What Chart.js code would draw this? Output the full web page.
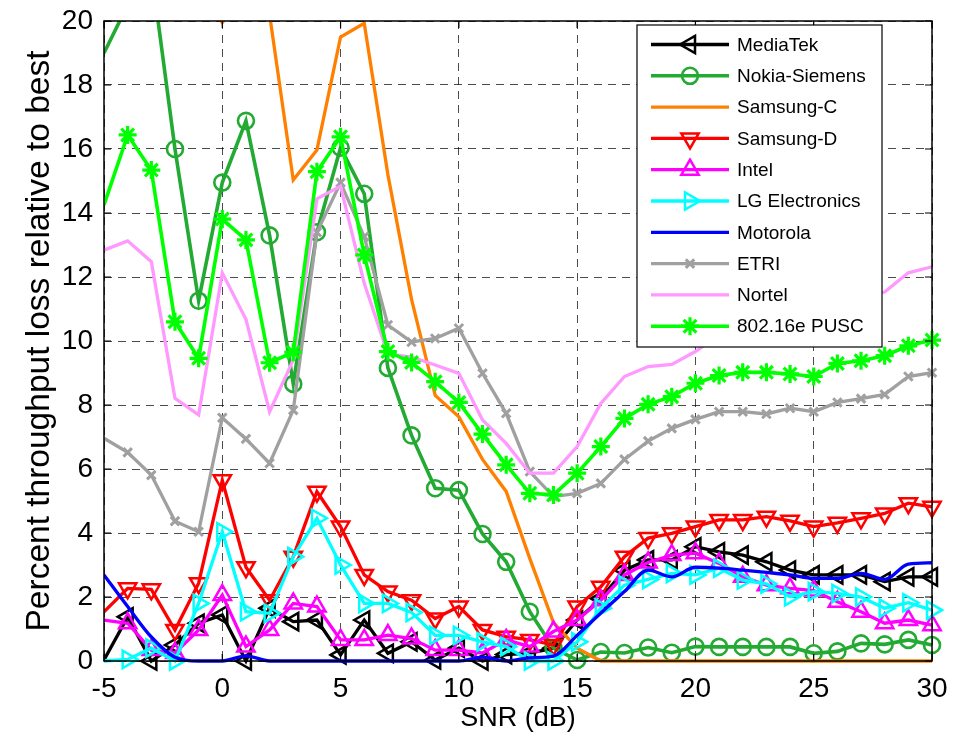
<!DOCTYPE html>
<html>
<head>
<meta charset="utf-8">
<title>Throughput loss vs SNR</title>
<script src="https://cdn.jsdelivr.net/npm/chart.js@4.4.0/dist/chart.umd.min.js"></script>
<style>
  html, body { margin: 0; padding: 0; background: #ffffff; }
  #wrap { width: 963px; height: 742px; position: relative; }
</style>
</head>
<body>
<div id="wrap"><canvas id="c" width="963" height="742"></canvas></div>
<script>
// SNR grid (dB)
const snr = [-5,-4,-3,-2,-1,0,1,2,3,4,5,6,7,8,9,10,11,12,13,14,15,16,17,18,19,20,21,22,23,24,25,26,27,28,29,30];

// Percent throughput loss relative to best, one value per SNR point
const mediatek = [0.03,1.38,0,0.5,1.18,1.44,0,1.65,1.23,1.28,0.19,1.28,0.24,0.6,0.03,0.4,0,0.2,0.25,0.4,1.28,1.95,2.84,3.16,3.16,3.57,3.41,3.31,3.1,2.84,2.69,2.69,2.69,2.48,2.63,2.63];
const nokiaSiemens = [19.0,20.5,21.6,16.0,11.26,14.95,16.88,13.3,8.66,13.4,16.04,14.6,9.16,7.05,5.4,5.34,3.97,3.1,1.54,0.4,0.03,0.28,0.25,0.42,0.26,0.45,0.44,0.44,0.44,0.44,0.24,0.3,0.55,0.52,0.66,0.5];
const samsungC = [23,24,24,23,21,19.95,21,20.2,15.03,15.97,19.5,19.93,15.2,11.3,8.3,7.63,6.3,5.3,3.2,1.2,0.4,0,0,0,0,0,0,0,0,0,0,0,0,0,0,0];
const samsungD = [1.54,2.27,2.24,0.97,2.43,5.65,2.93,1.9,3.26,5.29,4.2,2.69,2.17,1.9,1.33,1.7,0.97,0.76,0.66,0.5,1.7,2.32,3.26,3.84,3.99,4.2,4.41,4.41,4.51,4.38,4.2,4.32,4.46,4.61,4.93,4.82];
const intel = [1.28,1.18,0.34,0.25,0.97,2.06,0.45,0.97,1.8,1.7,0.66,0.66,0.81,0.7,0.34,0.34,0.25,0.66,0.45,0.92,1.28,1.9,2.69,3.08,3.31,3.37,3.05,2.63,2.37,2.27,2.2,1.85,1.54,1.18,1.28,1.12];
const lgElectronics = [0,0.05,0.4,0,1.8,4.04,1.54,1.49,3.26,4.46,3.0,1.8,1.8,1.52,0.8,0.8,0.6,0.45,0,0,0.6,1.65,2.37,2.55,2.74,2.69,2.9,2.53,2.41,2.01,2.17,2.11,2.0,1.65,1.82,1.59];
const motorola = [2.69,1.7,0.75,0.12,0,0,0.16,0,0,0,0,0,0,0,0,0,0.12,0,0.1,0.15,0.8,1.5,2.17,2.84,2.63,2.93,2.9,2.84,2.77,2.69,2.58,2.58,2.74,2.55,3.03,3.07];
const etri = [6.96,6.52,5.81,4.37,4.04,7.6,6.94,6.18,7.84,13.4,14.95,13.26,10.5,9.97,10.08,10.4,8.99,7.74,5.92,5.14,5.24,5.55,6.3,6.87,7.27,7.55,7.79,7.79,7.72,7.9,7.79,8.08,8.2,8.33,8.89,9.01];
const nortel = [12.84,13.13,12.48,8.21,7.69,12.13,10.68,7.79,9.41,14.44,14.84,11.8,9.6,9.5,9.25,8.99,7.53,6.8,5.87,5.87,6.7,8.05,8.89,9.2,9.27,9.67,10.2,10.5,10.7,10.9,11.0,11.2,11.4,11.53,12.13,12.32];
const pusc = [14.25,16.44,15.34,10.6,9.46,13.81,13.16,9.32,9.65,15.29,16.38,12.69,9.67,9.33,8.73,8.08,7.09,6.13,5.24,5.19,5.87,6.7,7.58,8.02,8.26,8.68,8.92,9.02,9.02,8.97,8.89,9.3,9.38,9.54,9.85,10.03];

// Axis ticks
const xTicks = [-5,0,5,10,15,20,25,30];
const yTicks = [0,2,4,6,8,10,12,14,16,18,20];

const FONT = "'Liberation Sans', Arial, Helvetica, sans-serif";

// Series styling: label, values, colour, line width, marker
const seriesDefs = [
  { label: 'MediaTek',        data: mediatek,      color: '#000000', width: 3.3, style: 'triangle', rot: 270, r: 10, bw: 2.5 },
  { label: 'Nokia-Siemens',   data: nokiaSiemens,  color: '#22aa33', width: 3.6, style: 'circle',   rot: 0,   r: 8,  bw: 2.6 },
  { label: 'Samsung-C',       data: samsungC,      color: '#ff8000', width: 3.3, style: false },
  { label: 'Samsung-D',       data: samsungD,      color: '#ff0000', width: 3.3, style: 'triangle', rot: 180, r: 10, bw: 2.5 },
  { label: 'Intel',           data: intel,         color: '#ff00ff', width: 3.3, style: 'triangle', rot: 0,   r: 10, bw: 2.5 },
  { label: 'LG Electronics',  data: lgElectronics, color: '#00ffff', width: 3.3, style: 'triangle', rot: 90,  r: 10, bw: 2.5 },
  { label: 'Motorola',        data: motorola,      color: '#0000ff', width: 3.3, style: false, smooth: true },
  { label: 'ETRI',            data: etri,          color: '#a0a0a0', width: 3.3, style: 'crossRot', rot: 0, r: 6, bw: 3 },
  { label: 'Nortel',          data: nortel,        color: '#ff99ff', width: 3.3, style: false },
  { label: '802.16e PUSC',    data: pusc,          color: '#00ff00', width: 3.6, style: 'star',     rot: 0,   r: 9,  bw: 3.2 }
];

const datasets = seriesDefs.map((s, i) => ({
  label: s.label,
  data: snr.map((x, k) => ({ x: x, y: s.data[k] })),
  borderColor: s.color,
  backgroundColor: 'rgba(0,0,0,0)',
  borderWidth: s.width,
  pointStyle: s.style || 'circle',
  // markers on the left frame edge are cut away with the line
  pointRadius: c => (s.style && c.dataIndex > 0) ? s.r : 0,
  pointHoverRadius: 0,
  pointRotation: s.rot || 0,
  pointBorderWidth: s.bw || 0,
  pointBorderColor: s.color,
  pointBackgroundColor: 'rgba(0,0,0,0)',
  tension: 0,
  cubicInterpolationMode: s.smooth ? 'monotone' : 'default',
  fill: false,
  // later series are painted over earlier ones
  order: seriesDefs.length - i,
  // lines above 20 are cut at the top edge; markers may spill past the right and bottom edges
  clip: { left: 0, top: 0, right: 14, bottom: 14 }
}));

// Frame, inward tick marks and boxed legend inside the plot
const framePlugin = {
  id: 'frame',
  beforeDraw(chart) {
    const ctx = chart.ctx;
    ctx.save();
    ctx.fillStyle = '#ffffff';
    ctx.fillRect(0, 0, chart.width, chart.height);
    ctx.restore();
  },
  afterDraw(chart) {
    const ctx = chart.ctx;
    const a = chart.chartArea;
    const xs = chart.scales.x, ys = chart.scales.y;
    ctx.save();
    ctx.strokeStyle = '#000000';
    ctx.lineWidth = 1.5;
    ctx.strokeRect(a.left, a.top, a.right - a.left, a.bottom - a.top);
    ctx.lineWidth = 1.2;
    const tl = 7;
    ctx.beginPath();
    xTicks.forEach(v => {
      const px = xs.getPixelForValue(v);
      ctx.moveTo(px, a.bottom); ctx.lineTo(px, a.bottom - tl);
      ctx.moveTo(px, a.top);    ctx.lineTo(px, a.top + tl);
    });
    yTicks.forEach(v => {
      const py = ys.getPixelForValue(v);
      ctx.moveTo(a.left, py);  ctx.lineTo(a.left + tl, py);
      ctx.moveTo(a.right, py); ctx.lineTo(a.right - tl, py);
    });
    ctx.stroke();

    // legend box
    const bx = 637, by = 25, bw = 245, bh = 322;
    ctx.fillStyle = '#ffffff';
    ctx.fillRect(bx, by, bw, bh);
    ctx.strokeStyle = '#000000';
    ctx.lineWidth = 1.2;
    ctx.strokeRect(bx, by, bw, bh);
    const rowTop = 44.5, rowStep = 31.3;
    ctx.font = '19px ' + FONT;
    ctx.textBaseline = 'middle';
    ctx.textAlign = 'left';
    seriesDefs.forEach((s, i) => {
      const y = rowTop + i * rowStep;
      ctx.strokeStyle = s.color;
      ctx.lineWidth = s.width;
      ctx.beginPath();
      ctx.moveTo(651, y); ctx.lineTo(729, y);
      ctx.stroke();
      if (s.style) {
        ctx.strokeStyle = s.color;
        ctx.fillStyle = 'rgba(0,0,0,0)';
        ctx.lineWidth = s.bw;
        Chart.helpers.drawPoint(ctx, { pointStyle: s.style, radius: s.r, rotation: s.rot, borderWidth: s.bw }, 690, y);
      }
      ctx.fillStyle = '#000000';
      ctx.fillText(s.label, 737, y + 1);
    });
    ctx.restore();
  }
};

// Shared grid settings: dashed lines, with an invisible tick stub that spaces the labels from the frame
const gridOpts = {
  color: 'rgba(0,0,0,0.7)', lineWidth: 1,
  drawTicks: true, tickLength: 11, tickColor: 'rgba(0,0,0,0)'
};

new Chart(document.getElementById('c'), {
  type: 'line',
  data: { datasets: datasets },
  plugins: [framePlugin],
  options: {
    responsive: false,
    animation: false,
    events: [],
    layout: { padding: { left: 0, top: 21, right: 31, bottom: 0 } },
    plugins: { legend: { display: false }, tooltip: { enabled: false } },
    scales: {
      x: {
        type: 'linear',
        min: -5, max: 30,
        afterBuildTicks(scale) { scale.ticks = xTicks.map(v => ({ value: v })); },
        afterFit(scale) { scale.height = 81; },
        ticks: { color: '#000', font: { family: FONT, size: 28 }, padding: 0, maxRotation: 0, autoSkip: false },
        grid: gridOpts,
        border: { display: false, dash: [8, 6] },
        title: { display: true, text: 'SNR (dB)', color: '#000', font: { family: FONT, size: 27 }, padding: { top: 0, bottom: 7 } }
      },
      y: {
        type: 'linear',
        min: 0, max: 20,
        afterBuildTicks(scale) { scale.ticks = yTicks.map(v => ({ value: v })); },
        afterFit(scale) { scale.width = 104; },
        ticks: { color: '#000', font: { family: FONT, size: 28 }, padding: 0 },
        grid: gridOpts,
        border: { display: false, dash: [8, 6] },
        title: { display: true, text: 'Percent throughput loss relative to best', color: '#000', font: { family: FONT, size: 33.5 }, padding: { top: 20, bottom: 0 } }
      }
    }
  }
});
</script>
</body>
</html>
